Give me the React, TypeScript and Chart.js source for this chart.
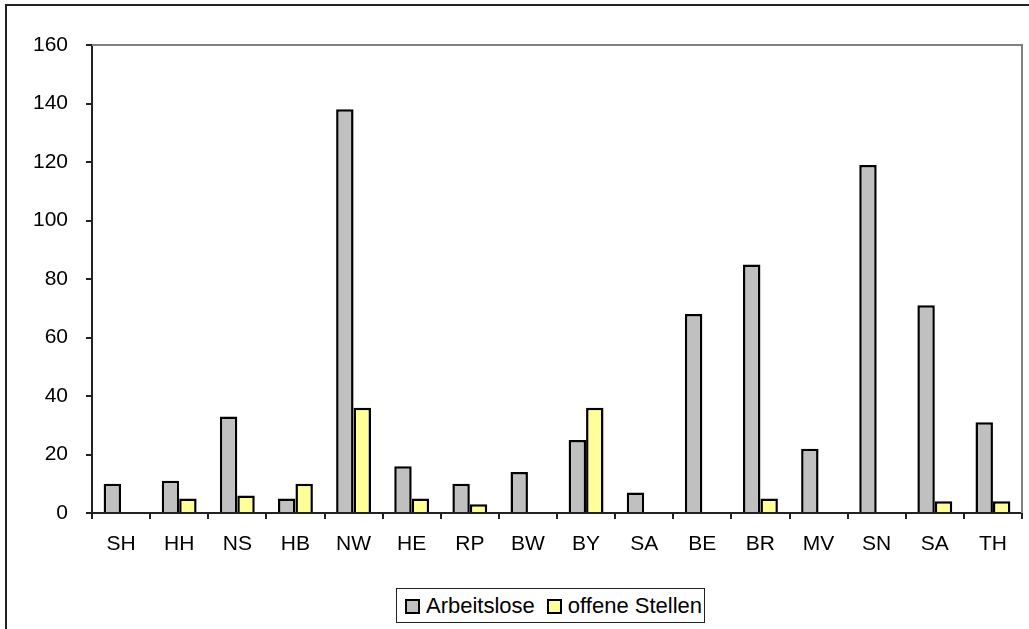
import React, { useEffect, useRef } from "react";
import { Chart, registerables } from "chart.js";

Chart.register(...registerables);

const categories = ["SH", "HH", "NS", "HB", "NW", "HE", "RP", "BW", "BY", "SA", "BE", "BR", "MV", "SN", "SA", "TH"];
const arbeitslose = [10, 11, 33, 5, 138, 16, 10, 14, 25, 7, 68, 85, 22, 119, 71, 31];
const offeneStellen = [0, 5, 6, 10, 36, 5, 3, 0, 36, 0, 0, 5, 0, 0, 4, 4];
const seriesNames = ["Arbeitslose", "offene Stellen"];
const seriesColors = ["#C0C0C0", "#FFFF99"];
const yMin = 0;
const yMax = 160;
const yStep = 20;

const FONT = "'Liberation Sans', Arial, sans-serif";

const plotFrame = {
  id: "plotFrame",
  beforeDatasetsDraw(chart: any) {
    const { ctx, chartArea } = chart;
    ctx.save();
    ctx.strokeStyle = "#808080";
    ctx.lineWidth = 2;
    ctx.beginPath();
    ctx.moveTo(chartArea.left, chartArea.top);
    ctx.lineTo(chartArea.right, chartArea.top);
    ctx.lineTo(chartArea.right, chartArea.bottom);
    ctx.stroke();
    ctx.restore();
  },
};

export default function App() {
  const canvasRef = useRef<HTMLCanvasElement | null>(null);

  useEffect(() => {
    if (!canvasRef.current) return;
    const chart = new Chart(canvasRef.current, {
      type: "bar",
      data: {
        labels: categories,
        datasets: [
          {
            label: seriesNames[0],
            data: arbeitslose,
            backgroundColor: seriesColors[0],
            borderColor: "#000",
            borderWidth: 2.5,
          },
          {
            label: seriesNames[1],
            data: offeneStellen,
            backgroundColor: seriesColors[1],
            borderColor: "#000",
            borderWidth: 2.5,
          },
        ],
      },
      options: {
        responsive: false,
        animation: false,
        maintainAspectRatio: false,
        layout: { padding: { left: 0, top: 45, right: 7, bottom: 0 } },
        datasets: { bar: { categoryPercentage: 0.6, barPercentage: 1.0 } },
        plugins: {
          legend: { display: false },
          tooltip: { enabled: false },
        },
        scales: {
          x: {
            grid: {
              offset: true,
              drawOnChartArea: false,
              drawTicks: true,
              tickLength: 6,
              color: "#222",
              lineWidth: 2,
            },
            border: { display: true, color: "#222", width: 2 },
            ticks: {
              color: "#000",
              font: { family: FONT, size: 21 },
              padding: 13,
              maxRotation: 0,
              autoSkip: false,
            },
            afterFit: (scale: any) => {
              scale.height = 116;
            },
          },
          y: {
            min: yMin,
            max: yMax,
            grid: {
              drawOnChartArea: false,
              drawTicks: true,
              tickLength: 6,
              color: "#222",
              lineWidth: 2,
            },
            border: { display: true, color: "#222", width: 2 },
            ticks: {
              stepSize: yStep,
              color: "#000",
              font: { family: FONT, size: 21 },
              padding: 18,
            },
            afterFit: (scale: any) => {
              scale.width = 92;
            },
          },
        },
      },
      plugins: [plotFrame],
    });
    return () => chart.destroy();
  }, []);

  const swatch = (color: string) => ({
    display: "inline-block",
    width: 11,
    height: 11,
    border: "2px solid #000",
    background: color,
    marginRight: 6,
    verticalAlign: "middle",
    position: "relative" as const,
    top: -1,
  });

  return (
    <div
      style={{
        position: "fixed",
        left: 0,
        top: 0,
        width: 1029,
        height: 629,
        overflow: "hidden",
        background: "#fff",
      }}
    >
      <div
        style={{
          position: "absolute",
          left: 5,
          top: 4,
          width: 1200,
          height: 800,
          borderLeft: "2px solid #222",
          borderTop: "2px solid #222",
        }}
      />
      <canvas
        ref={canvasRef}
        width={1029}
        height={629}
        style={{ position: "absolute", left: 0, top: 0, width: 1029, height: 629 }}
      />
      <div
        style={{
          position: "absolute",
          left: 396,
          top: 588,
          width: 299,
          height: 33,
          border: "1px solid #222",
          background: "#fff",
          fontFamily: FONT,
          fontSize: 22,
          color: "#000",
          lineHeight: "33px",
          whiteSpace: "nowrap",
          paddingLeft: 8,
          boxSizing: "content-box",
        }}
      >
        <span style={swatch(seriesColors[0])} />
        <span style={{ marginRight: 12 }}>{seriesNames[0]}</span>
        <span style={swatch(seriesColors[1])} />
        <span>{seriesNames[1]}</span>
      </div>
    </div>
  );
}
